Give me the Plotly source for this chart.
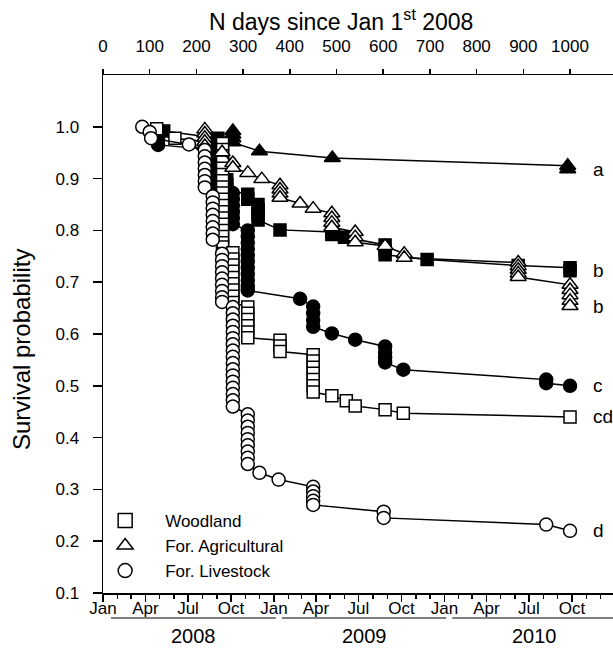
import plotly.graph_objects as go
from datetime import date

# ---------------- data (days since Jan 1 2008, survival probability) ----------------
wood_fill_days = [130,
                  246, 246, 246, 246, 246, 246, 246, 246,
                  265, 265, 265,
                  310, 310,
                  332, 332, 332, 332,
                  379, 490, 490, 517,
                  604, 604, 604, 694, 889, 1000, 1000]
wood_fill_surv = [0.992,
                  0.978, 0.968, 0.958, 0.948, 0.938, 0.928, 0.918, 0.908,
                  0.898, 0.888, 0.878,
                  0.870, 0.860,
                  0.850, 0.840, 0.830, 0.820,
                  0.801, 0.797, 0.792, 0.787,
                  0.772, 0.762, 0.753, 0.744, 0.732, 0.728, 0.722]

liv_fill_days = [118, 118, 118,
                 246, 246, 246, 246, 246, 246, 246, 246,
                 278, 278, 278, 278, 278, 278,
                 310, 310, 310, 310, 310, 310, 310, 310, 310, 310, 310,
                 422, 450, 450, 450, 450, 490, 540,
                 604, 604, 604, 604, 643, 949, 949, 1000]
liv_fill_surv = [0.985, 0.975, 0.965,
                 0.955, 0.945, 0.935, 0.925, 0.915, 0.905, 0.895, 0.885,
                 0.872, 0.860, 0.848, 0.836, 0.824, 0.812,
                 0.800, 0.788, 0.776, 0.764, 0.752, 0.740, 0.728, 0.716, 0.704, 0.692, 0.684,
                 0.668, 0.653, 0.640, 0.627, 0.614, 0.601, 0.589,
                 0.576, 0.565, 0.555, 0.545, 0.531, 0.512, 0.505, 0.500]

agr_fill_days = [278, 278, 278, 278, 335, 491, 995, 995]
agr_fill_surv = [0.992, 0.985, 0.978, 0.970, 0.953, 0.940, 0.925, 0.918]

wood_open_days = [115, 154,
                  256, 256, 256, 256, 256, 256, 256, 256, 256, 256, 256, 256, 256, 256, 256, 256, 256, 256,
                  278, 278, 278, 278, 278, 278, 278, 278, 278,
                  310, 310, 310, 310, 310, 310,
                  379, 379, 379,
                  450, 450, 450, 450, 450, 450, 450,
                  490, 521, 540, 604, 643, 1000]
wood_open_surv = [0.996, 0.978,
                  0.968, 0.956, 0.944, 0.932, 0.920, 0.908, 0.896, 0.884, 0.872, 0.860, 0.848, 0.836,
                  0.824, 0.812, 0.800, 0.788, 0.776, 0.768,
                  0.757, 0.745, 0.733, 0.721, 0.709, 0.697, 0.685, 0.673, 0.661,
                  0.652, 0.640, 0.628, 0.616, 0.604, 0.593,
                  0.588, 0.577, 0.566,
                  0.560, 0.548, 0.536, 0.524, 0.512, 0.500, 0.488,
                  0.481, 0.471, 0.461, 0.454, 0.447, 0.440]

agr_open_days = [218, 218, 218, 218, 218,
                 255, 278, 278, 310, 340,
                 379, 379, 379, 379,
                 422, 450,
                 490, 490, 490, 490,
                 540, 540, 540,
                 604, 645, 645,
                 889, 889, 889, 889, 889,
                 1000, 1000, 1000, 1000, 1000]
agr_open_surv = [0.995, 0.987, 0.979, 0.971, 0.963,
                 0.951, 0.930, 0.921, 0.911, 0.899,
                 0.887, 0.879, 0.871, 0.863,
                 0.852, 0.842,
                 0.833, 0.824, 0.815, 0.806,
                 0.797, 0.787, 0.777,
                 0.770, 0.755, 0.747,
                 0.738, 0.731, 0.724, 0.717, 0.710,
                 0.695, 0.685, 0.675, 0.664, 0.654]

liv_open_days = [84, 100, 103, 184,
                 218, 218, 218, 218, 218, 218, 218,
                 235, 235, 235, 235, 235, 235, 235, 235,
                 255, 255, 255, 255, 255, 255, 255, 255, 255,
                 278, 278, 278, 278, 278, 278, 278, 278, 278, 278, 278, 278, 278, 278, 278, 278, 278,
                 310, 310, 310, 310, 310, 310, 310, 310, 310,
                 335, 376,
                 450, 450, 450, 450, 450,
                 601, 601, 949, 1000]
liv_open_surv = [1.000, 0.990, 0.978, 0.966,
                 0.955, 0.943, 0.931, 0.919, 0.907, 0.895, 0.883,
                 0.866, 0.854, 0.842, 0.830, 0.818, 0.806, 0.794, 0.782,
                 0.755, 0.743, 0.731, 0.719, 0.707, 0.695, 0.683, 0.671, 0.662,
                 0.652, 0.640, 0.628, 0.616, 0.604, 0.592, 0.580, 0.568, 0.556, 0.544, 0.532,
                 0.520, 0.508, 0.496, 0.484, 0.472, 0.460,
                 0.445, 0.433, 0.421, 0.409, 0.397, 0.385, 0.373, 0.361, 0.349,
                 0.332, 0.319,
                 0.305, 0.296, 0.287, 0.278, 0.270,
                 0.257, 0.245, 0.232, 0.220]

legend_names = ["Woodland", "For. Agricultural", "For. Livestock"]
group_letters = ["a", "b", "b", "c", "cd", "d"]
year_labels = ["2008", "2009", "2010"]
month_names = ["Jan", "Feb", "Mar", "Apr", "May", "Jun", "Jul", "Aug", "Sep", "Oct", "Nov", "Dec"]
top_ticks = [0, 100, 200, 300, 400, 500, 600, 700, 800, 900, 1000]
y_ticks = [0.1, 0.2, 0.3, 0.4, 0.5, 0.6, 0.7, 0.8, 0.9, 1.0]

# ---------------- figure ----------------
FONT = "Liberation Sans, Arial, Helvetica, sans-serif"
XMAX = 1092
ORIGIN = date(2008, 1, 1)
PLOT_TOP, PLOT_BOTTOM, PLOT_LEFT, PLOT_W = 75, 593, 103, 510
PLOT_H = PLOT_BOTTOM - PLOT_TOP


def py(pixel_y):
    """paper y coordinate for a pixel row"""
    return (PLOT_BOTTOM - pixel_y) / PLOT_H


def px(pixel_x):
    """paper x coordinate for a pixel column"""
    return (pixel_x - PLOT_LEFT) / PLOT_W


fig = go.Figure()


def add_series(days, surv, symbol, filled, size):
    fig.add_trace(go.Scatter(
        x=days, y=surv, mode="lines+markers",
        line=dict(color="black", width=1.5),
        marker=dict(symbol=symbol, size=size,
                    color="black" if filled else "white",
                    line=dict(color="black", width=1.5)),
        showlegend=False, cliponaxis=False, hoverinfo="skip"))


add_series(wood_fill_days, wood_fill_surv, "square", True, 12)
add_series(liv_fill_days, liv_fill_surv, "circle", True, 13)
add_series(agr_fill_days, agr_fill_surv, "triangle-up", True, 14)
add_series(wood_open_days, wood_open_surv, "square", False, 12)
add_series(agr_open_days, agr_open_surv, "triangle-up", False, 14)
add_series(liv_open_days, liv_open_surv, "circle", False, 13)

for name, sym in zip(legend_names, ["square", "triangle-up", "circle"]):
    fig.add_trace(go.Scatter(
        x=[None], y=[None], mode="markers", name=name, xaxis="x2",
        marker=dict(symbol=sym, size=14, color="white",
                    line=dict(color="black", width=1.5))))

# month ticks
month_days, major_days, major_text = [], [], []
for yr in (2008, 2009, 2010, 2011):
    for m in range(1, 13):
        d = (date(yr, m, 1) - ORIGIN).days
        if d > XMAX:
            continue
        month_days.append(d)
        if m in (1, 4, 7, 10):
            major_days.append(d)
            major_text.append(month_names[m - 1])

fig.update_layout(
    width=613, height=666,
    margin=dict(l=PLOT_LEFT, r=0, t=PLOT_TOP, b=666 - PLOT_BOTTOM),
    paper_bgcolor="white", plot_bgcolor="white",
    font=dict(family=FONT, color="black", size=17),
    xaxis=dict(range=[0, XMAX], showline=True, linecolor="black", linewidth=1.5,
               showgrid=False, zeroline=False,
               tickmode="array", tickvals=major_days, ticktext=major_text,
               ticks="outside", ticklen=7, tickwidth=1.5, tickcolor="black",
               tickfont=dict(size=17), ticklabelstandoff=-8,
               minor=dict(tickmode="array", tickvals=month_days, ticks="outside",
                          ticklen=4, tickwidth=1.2, tickcolor="black", showgrid=False)),
    xaxis2=dict(range=[0, XMAX], overlaying="x", side="top", anchor="y",
                showline=True, linecolor="black", linewidth=1.5,
                showgrid=False, zeroline=False,
                tickmode="array", tickvals=top_ticks,
                ticks="outside", ticklen=5, tickwidth=1.5, tickcolor="black",
                tickfont=dict(size=17), ticklabelstandoff=10),
    yaxis=dict(range=[0.1, 1.1], showline=True, linecolor="black", linewidth=1.5,
               showgrid=False, zeroline=False,
               tickmode="array", tickvals=y_ticks, tickformat=".1f",
               ticks="outside", ticklen=9, tickwidth=1.5, tickcolor="black",
               tickfont=dict(size=17), ticklabelstandoff=10),
    showlegend=True,
    legend=dict(x=-0.035, xanchor="left", y=0.174, yanchor="top",
                bgcolor="rgba(0,0,0,0)", borderwidth=0,
                font=dict(size=17), itemwidth=70, tracegroupgap=0),
)

annotations = [
    dict(text="N days since Jan 1<sup>st</sup> 2008", xref="paper", yref="paper",
         x=px(341), y=py(20), xanchor="center", yanchor="middle",
         showarrow=False, font=dict(size=23)),
    dict(text="Survival probability", xref="paper", yref="paper",
         x=px(22), y=py(350), textangle=-90, xanchor="center", yanchor="middle",
         showarrow=False, font=dict(size=24)),
]

# group letters next to final values
finals = [agr_fill_surv[-1], wood_fill_surv[-1], agr_open_surv[-1],
          liv_fill_surv[-1], wood_open_surv[-1], liv_open_surv[-1]]
for letter, yv in zip(group_letters, finals):
    annotations.append(dict(text=letter, x=1045, y=yv, xref="x", yref="y",
                            xanchor="left", yanchor="middle", showarrow=False,
                            font=dict(size=19)))

# year labels with lines under the month labels
shapes = []
for yl in year_labels:
    yr = int(yl)
    s = (date(yr, 1, 1) - ORIGIN).days + 17
    e = (date(yr + 1, 1, 1) - ORIGIN).days + 4
    shapes.append(dict(type="line", xref="x", yref="paper", x0=s, x1=e,
                       y0=py(618), y1=py(618),
                       line=dict(color="black", width=1)))
    annotations.append(dict(text=yl, xref="x", yref="paper", x=(s + e) / 2,
                            y=py(636), xanchor="center", yanchor="middle",
                            showarrow=False, font=dict(size=20)))

fig.update_layout(annotations=annotations, shapes=shapes)
fig.write_html("out.html", config={"displayModeBar": False, "staticPlot": True},
               post_script="document.body.style.margin='0px';")
